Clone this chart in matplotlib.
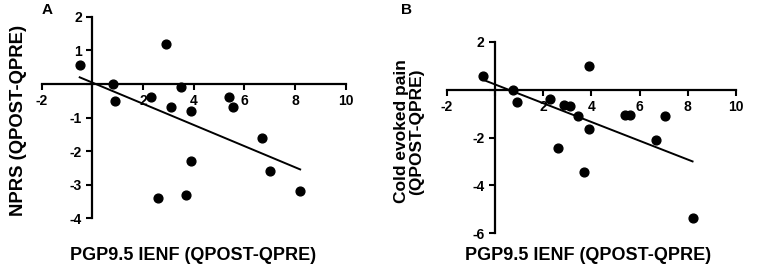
import numpy as np
import matplotlib
matplotlib.use("Agg")
import matplotlib.pyplot as plt

plt.rcParams['font.family'] = ['Liberation Sans', 'DejaVu Sans']
plt.rcParams['font.weight'] = 'bold'

# Panel A data
a_x = [-0.5, 0.8, 0.9, 2.9, 2.3, 3.1, 3.5, 3.9, 3.9, 3.7, 2.6, 5.4, 5.55, 6.7, 7.0, 8.2]
a_y = [0.55, 0.0, -0.5, 1.2, -0.4, -0.7, -0.1, -0.8, -2.3, -3.3, -3.4, -0.4, -0.7, -1.6, -2.6, -3.2]
a_xticks = [-2, 2, 4, 6, 8, 10]
a_yticks = [2, 1, -1, -2, -3, -4]

# Panel B data
b_x = [-0.5, 0.75, 0.9, 3.9, 2.3, 2.85, 3.1, 3.45, 3.9, 2.6, 3.7, 5.4, 5.6, 7.05, 6.7, 8.2]
b_y = [0.55, 0.0, -0.5, 1.0, -0.4, -0.65, -0.7, -1.1, -1.65, -2.45, -3.45, -1.05, -1.05, -1.1, -2.1, -5.35]
b_xticks = [-2, 2, 4, 6, 8, 10]
b_yticks = [2, -2, -4, -6]

fig = plt.figure(figsize=(7.65, 2.74), dpi=100)

def setup(ax, xs, ys, xticks, yticks, ylim, yticks_all):
    ax.scatter(xs, ys, s=40, color='black', zorder=3)
    xs = np.asarray(xs); ys = np.asarray(ys)
    m, c = np.polyfit(xs, ys, 1)
    xl = np.array([xs.min(), xs.max()])
    ax.plot(xl, m * xl + c, color='black', lw=1.4)
    ax.set_xlim(-2, 10)
    ax.set_ylim(*ylim)
    for s in ['top', 'right']:
        ax.spines[s].set_visible(False)
    ax.spines['left'].set_position(('data', 0))
    ax.spines['bottom'].set_position(('data', 0))
    ax.spines['left'].set_linewidth(1.6)
    ax.spines['bottom'].set_linewidth(1.6)
    ax.set_xticks([-2, 0, 2, 4, 6, 8, 10])
    ax.set_xticklabels([str(t) if t in xticks else '' for t in [-2, 0, 2, 4, 6, 8, 10]])
    ax.set_yticks(yticks_all)
    ax.set_yticklabels([str(t) if t in yticks else '' for t in yticks_all])
    ax.tick_params(axis='both', direction='out', length=4.5, width=1.5, labelsize=10, pad=3)
    for lbl in ax.get_xticklabels() + ax.get_yticklabels():
        lbl.set_fontweight('bold')

axA = fig.add_axes([0.0545, 0.203, 0.3975, 0.736])
setup(axA, a_x, a_y, a_xticks, a_yticks, (-4, 2), [2, 1, 0, -1, -2, -3, -4])
axB = fig.add_axes([0.584, 0.148, 0.378, 0.70])
setup(axB, b_x, b_y, b_xticks, b_yticks, (-6, 2), [2, 0, -2, -4, -6])

fig.text(0.024, 0.56, 'NPRS (QPOST-QPRE)', rotation=90, ha='center', va='center',
         fontsize=13.3, fontweight='bold')
fig.text(0.253, 0.068, 'PGP9.5 IENF (QPOST-QPRE)', ha='center', va='center',
         fontsize=13, fontweight='bold')
fig.text(0.535, 0.52, 'Cold evoked pain\n(QPOST-QPRE)', rotation=90, ha='center', va='center',
         fontsize=12.5, fontweight='bold', linespacing=1.0)
fig.text(0.769, 0.068, 'PGP9.5 IENF (QPOST-QPRE)', ha='center', va='center',
         fontsize=13, fontweight='bold')
fig.text(0.061, 0.963, 'A', ha='center', va='center', fontsize=11, fontweight='bold')
fig.text(0.531, 0.963, 'B', ha='center', va='center', fontsize=11, fontweight='bold')

fig.savefig('out.png', dpi=100)
